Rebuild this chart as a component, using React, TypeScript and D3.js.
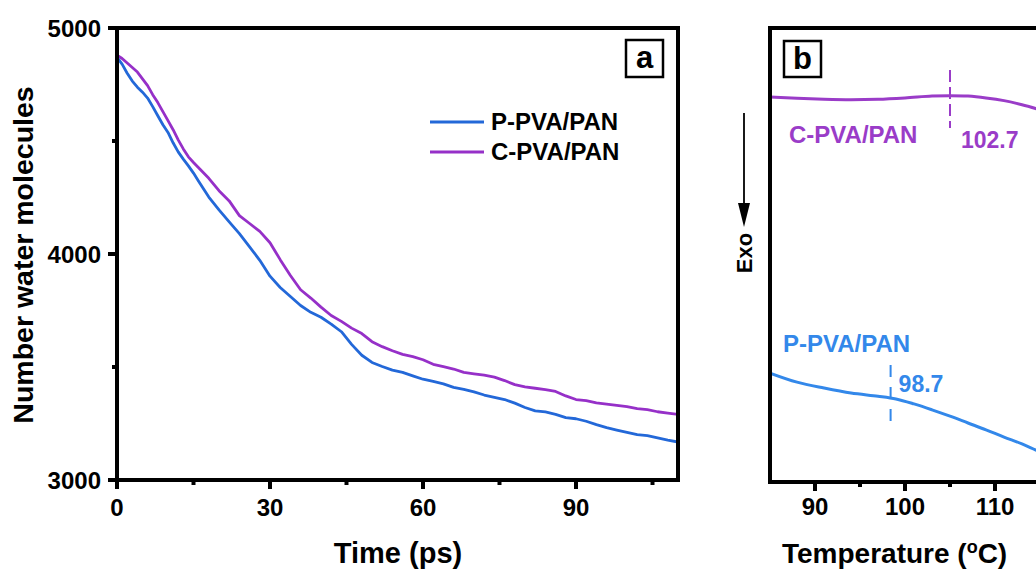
import React from 'react';
import * as d3 from 'd3';

// ---------- Panel a data ----------
const timePs = [0, 1, 2, 3, 4, 5, 6, 7, 8, 9, 10, 11, 12, 13, 14, 15, 16,
  18, 20, 22, 24, 26, 28, 30, 32, 34, 36, 38, 40, 42, 44, 46, 48, 50, 52, 54, 56, 58, 60,
  62, 64, 66, 68, 70, 72, 74, 76, 78, 80, 82, 84, 86, 88, 90, 92, 94, 96, 98, 100,
  102, 104, 106, 108, 110];
const pPvaPan = [4870, 4840, 4800, 4765, 4738, 4716, 4690, 4652, 4612, 4572, 4538, 4492, 4452, 4420, 4390, 4358, 4322,
  4252, 4195, 4142, 4090, 4032, 3972, 3902, 3852, 3812, 3772, 3742, 3720, 3690, 3656, 3600, 3552, 3520, 3502, 3486, 3476, 3461, 3446,
  3436, 3425, 3410, 3401, 3390, 3376, 3366, 3356, 3340, 3321, 3306, 3301, 3290, 3276, 3271, 3260, 3245, 3232, 3221, 3211,
  3201, 3196, 3186, 3176, 3168];
const cPvaPan = [4880, 4865, 4845, 4825, 4805, 4775, 4745, 4705, 4670, 4630, 4590, 4550, 4505, 4465, 4430, 4405, 4382,
  4335, 4280, 4235, 4170, 4135, 4100, 4050, 3975, 3905, 3842, 3805, 3765, 3728, 3702, 3672, 3648, 3612, 3590, 3572, 3556, 3546, 3532,
  3512, 3502, 3491, 3476, 3470, 3464, 3455, 3440, 3422, 3412, 3406, 3400, 3392, 3372, 3356, 3351, 3341, 3336, 3330, 3325,
  3316, 3311, 3302, 3296, 3290];
const timeTicks = [0, 30, 60, 90];
const timeMinorTicks = [15, 45, 75, 105];
const countTicks = [3000, 4000, 5000];
const countMinorTicks = [3500, 4500];

// ---------- Panel b data ----------
const tempC = [85, 88, 91, 94, 97, 100, 103, 105, 107, 109, 111, 113, 115, 117];
const dscC = [84.8, 84.5, 84.3, 84.2, 84.3, 84.6, 85.0, 85.1, 85.0, 84.6, 84.0, 83.1, 82.0, 80.8];
const tempP = [85, 88, 91, 94, 97, 99, 101, 103, 105, 107, 109, 111, 113, 115, 117];
const dscP = [24.0, 22.0, 20.7, 19.6, 18.9, 18.3, 17.2, 15.9, 14.5, 13.0, 11.5, 9.9, 8.4, 6.6, 4.8];
const tempTicks = [90, 100, 110];
const tempMinorTicks = [95, 105, 115];
const tgC = { mark: 105, label: '102.7' };
const tgP = { mark: 98.4, label: '98.7' };

const BLUE = '#2368d8';
const PURPLE = '#9630c8';
const BLUE_B = '#3388ea';
const PURPLE_B = '#9a3cc8';
const FONT = '"Liberation Sans", Arial, Helvetica, sans-serif';

export default function App() {
  // Panel a scales
  const xA = d3.scaleLinear().domain([0, 110]).range([117, 678]);
  const yA = d3.scaleLinear().domain([3000, 5000]).range([480, 28]);
  // Panel b scales
  const xB = d3.scaleLinear().domain([85, 125]).range([770, 1130]);
  const yB = d3.scaleLinear().domain([0, 100]).range([482, 28]);

  const lineA = d3.line<number>().x((_, i) => xA(timePs[i])).y((d) => yA(d));
  const lineBC = d3.line<number>().x((_, i) => xB(tempC[i])).y((d) => yB(d)).curve(d3.curveCatmullRom);
  const lineBP = d3.line<number>().x((_, i) => xB(tempP[i])).y((d) => yB(d)).curve(d3.curveCatmullRom);

  const axisW = 4;

  return (
    <svg width={1036} height={574} style={{ position: 'absolute', left: 0, top: 0, background: '#fff' }}
      fontFamily={FONT} fontWeight="bold">
      <rect x={0} y={0} width={1036} height={574} fill="#fff" />
      {/* ===== Panel a ===== */}
      <defs>
        <clipPath id="clipA">
          <rect x={xA(0)} y={yA(5000)} width={xA(110) - xA(0)} height={yA(3000) - yA(5000)} />
        </clipPath>
      </defs>
      <g clipPath="url(#clipA)" fill="none" strokeWidth={2.8} strokeLinejoin="round">
        <path d={lineA(cPvaPan) || ''} stroke={PURPLE} />
        <path d={lineA(pPvaPan) || ''} stroke={BLUE} />
      </g>
      <rect x={xA(0)} y={yA(5000)} width={xA(110) - xA(0)} height={yA(3000) - yA(5000)}
        fill="none" stroke="#000" strokeWidth={axisW} />
      {/* y ticks */}
      {countTicks.map((v) => (
        <g key={'yt' + v}>
          <line x1={xA(0) - 9} x2={xA(0)} y1={yA(v)} y2={yA(v)} stroke="#000" strokeWidth={axisW} />
          <text x={xA(0) - 16} y={yA(v)} dy="0.36em" textAnchor="end" fontSize={24}>{v}</text>
        </g>
      ))}
      {countMinorTicks.map((v) => (
        <line key={'ym' + v} x1={xA(0) - 5} x2={xA(0)} y1={yA(v)} y2={yA(v)} stroke="#000" strokeWidth={axisW} />
      ))}
      {/* x ticks */}
      {timeTicks.map((v) => (
        <g key={'xt' + v}>
          <line x1={xA(v)} x2={xA(v)} y1={yA(3000)} y2={yA(3000) + 9} stroke="#000" strokeWidth={axisW} />
          <text x={xA(v)} y={516} textAnchor="middle" fontSize={24}>{v}</text>
        </g>
      ))}
      {timeMinorTicks.map((v) => (
        <line key={'xm' + v} x1={xA(v)} x2={xA(v)} y1={yA(3000)} y2={yA(3000) + 5} stroke="#000" strokeWidth={axisW} />
      ))}
      <text x={398} y={563} textAnchor="middle" fontSize={29}>Time (ps)</text>
      <text transform="translate(33,255) rotate(-90)" textAnchor="middle" fontSize={28.5}>Number water molecules</text>
      {/* legend */}
      <line x1={430} x2={484} y1={122} y2={122} stroke={BLUE} strokeWidth={3} />
      <text x={491} y={130} fontSize={24}>P-PVA/PAN</text>
      <line x1={430} x2={484} y1={152} y2={152} stroke={PURPLE} strokeWidth={3} />
      <text x={491} y={160} fontSize={24}>C-PVA/PAN</text>
      {/* label a */}
      <rect x={626} y={40} width={37} height={37} fill="#fff" stroke="#000" strokeWidth={2.5} />
      <text x={644.5} y={68} textAnchor="middle" fontSize={31}>a</text>

      {/* ===== Panel b ===== */}
      <defs>
        <clipPath id="clipB">
          <rect x={xB(85)} y={yB(100)} width={xB(125) - xB(85)} height={yB(0) - yB(100)} />
        </clipPath>
      </defs>
      <g clipPath="url(#clipB)" fill="none" strokeWidth={3}>
        <path d={lineBC(dscC) || ''} stroke={PURPLE_B} />
        <path d={lineBP(dscP) || ''} stroke={BLUE_B} />
      </g>
      {/* Tg markers */}
      <line x1={xB(tgC.mark)} x2={xB(tgC.mark)} y1={70} y2={128} stroke={PURPLE_B} strokeWidth={2} strokeDasharray="12 5" />
      <text x={xB(tgC.mark) + 11} y={148} fontSize={23} fill={PURPLE_B}>{tgC.label}</text>
      <text x={789} y={143} fontSize={24} fill={PURPLE_B}>C-PVA/PAN</text>
      <line x1={xB(tgP.mark)} x2={xB(tgP.mark)} y1={365} y2={424} stroke={BLUE_B} strokeWidth={2} strokeDasharray="12 10" />
      <text x={xB(tgP.mark) + 8} y={392} fontSize={23} fill={BLUE_B}>{tgP.label}</text>
      <text x={783} y={352} fontSize={24} fill={BLUE_B}>P-PVA/PAN</text>
      <rect x={xB(85)} y={yB(100)} width={xB(125) - xB(85)} height={yB(0) - yB(100)}
        fill="none" stroke="#000" strokeWidth={axisW} />
      {tempTicks.map((v) => (
        <g key={'bt' + v}>
          <line x1={xB(v)} x2={xB(v)} y1={yB(0)} y2={yB(0) + 9} stroke="#000" strokeWidth={axisW} />
          <text x={xB(v)} y={515} textAnchor="middle" fontSize={24}>{v}</text>
        </g>
      ))}
      {tempMinorTicks.map((v) => (
        <line key={'bm' + v} x1={xB(v)} x2={xB(v)} y1={yB(0)} y2={yB(0) + 5} stroke="#000" strokeWidth={axisW} />
      ))}
      <text x={782} y={563} fontSize={28}>
        Temperature (<tspan fontSize={18} dy={-10}>o</tspan><tspan dy={10}>C)</tspan>
      </text>
      {/* label b */}
      <rect x={784} y={41} width={37} height={36} fill="#fff" stroke="#000" strokeWidth={2.5} />
      <text x={802.5} y={69} textAnchor="middle" fontSize={31}>b</text>
      {/* Exo arrow */}
      <line x1={744} x2={744} y1={113} y2={208} stroke="#000" strokeWidth={1.8} />
      <path d="M738,203 L750,203 L744,227 Z" fill="#000" />
      <text transform="translate(752,253) rotate(-90)" textAnchor="middle" fontSize={22}>Exo</text>
    </svg>
  );
}
